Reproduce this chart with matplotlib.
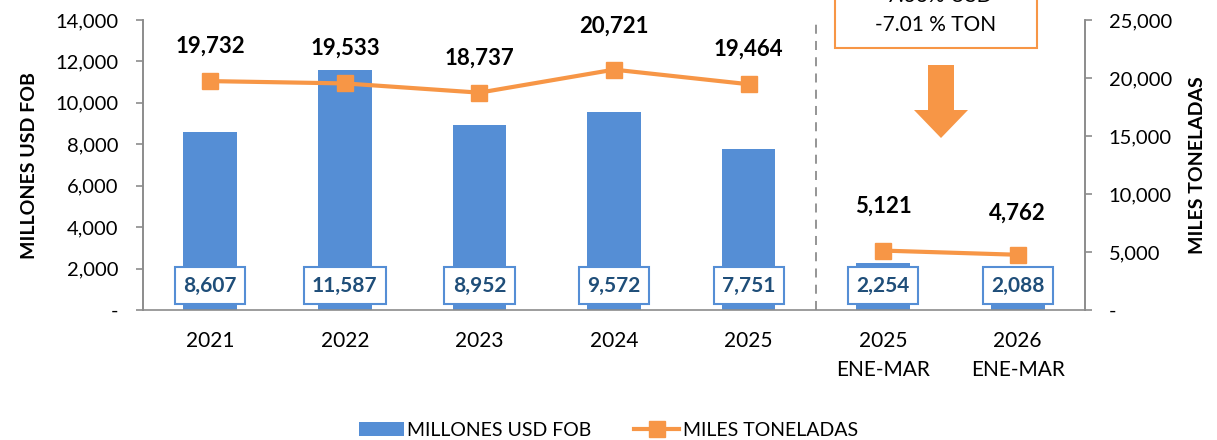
import numpy as np
import matplotlib
matplotlib.use("Agg")
import matplotlib.pyplot as plt
from matplotlib.patches import Polygon, Rectangle, Patch
from matplotlib.lines import Line2D
from matplotlib.ticker import FuncFormatter

plt.rcParams['font.family'] = ['Lato', 'DejaVu Sans']

# data
categories = ["2021", "2022", "2023", "2024", "2025", "2025\nENE-MAR", "2026\nENE-MAR"]
usd_fob = [8607, 11587, 8952, 9572, 7751, 2254, 2088]
miles_ton = [19732, 19533, 18737, 20721, 19464, 5121, 4762]
var_usd = "-7.36% USD"
var_ton = "-7.01 % TON"

blue = "#558ED5"
orange = "#F79646"
box_txt = "#1F4E79"
grey = "#8C8C8C"

W, H = 1217, 440
fig = plt.figure(figsize=(W / 100, H / 100), dpi=100)
ax = fig.add_axes([143 / W, 1 - 310 / H, (1085 - 143) / W, 290 / H])
ax2 = ax.twinx()

x = np.arange(len(categories))
ax.bar(x, usd_fob, width=0.4, color=blue, zorder=2)
ax.set_xlim(-0.5, len(categories) - 0.5)
ax.set_ylim(0, 14000)
ax.set_yticks(np.arange(0, 14001, 2000))
ax2.set_ylim(0, 25000)
ax2.set_yticks(np.arange(0, 25001, 5000))

fmt = FuncFormatter(lambda v, p: "-" if v == 0 else f"{int(v):,}")
ax.yaxis.set_major_formatter(fmt)
ax2.yaxis.set_major_formatter(fmt)

# line on secondary axis: two segments (annual / ene-mar)
ax2.plot(x[:5], miles_ton[:5], color=orange, lw=3, marker="s", ms=11, zorder=3)
ax2.plot(x[5:], miles_ton[5:], color=orange, lw=3, marker="s", ms=11, zorder=3)

# labels over the line
offsets = [25, 25, 25, 31, 25, 32, 30]
for i, v in enumerate(miles_ton):
    ax2.annotate(f"{v:,}", (x[i], v), xytext=(0, offsets[i]), textcoords="offset points",
                 ha="center", va="center", fontsize=16, fontweight="bold", color="black")

# value boxes at the foot of the bars
for i, v in enumerate(usd_fob):
    ax2.text(x[i], 2100, f"{v:,}", ha="center", va="center", fontsize=15,
             fontweight="bold", color=box_txt, zorder=5,
             bbox=dict(boxstyle="square,pad=0.4", fc="white", ec=blue, lw=1.5))

for a in (ax, ax2):
    a.spines["top"].set_visible(False)
    for s in ("left", "right", "bottom"):
        a.spines[s].set_color(grey)
        a.spines[s].set_linewidth(1.2)
ax2.spines["bottom"].set_visible(False)

ax.set_xticks(x)
ax.set_xticklabels(categories, fontsize=15, linespacing=1.6)
ax.tick_params(axis="x", length=0, pad=15)
ax.tick_params(axis="y", labelsize=14.5, colors=grey, labelcolor="black", length=5, width=1.2, pad=13)
ax2.tick_params(axis="y", labelsize=14.5, colors=grey, labelcolor="black", length=5, width=1.2, pad=12)

ax.set_ylabel("MILLONES USD FOB", fontsize=14, fontweight="bold", labelpad=12)
ax2.set_ylabel("MILES TONELADAS", fontsize=14, fontweight="bold", labelpad=12)

# dashed separator
ax.axvline(4.5, color=grey, ls=(0, (5, 4)), lw=1.3, zorder=1)

# variation box (cut at the top) and down arrow
def fx(px):
    return px / W

def fy(py):
    return 1 - py / H

fig.patches.append(Rectangle((fx(835), fy(48)), fx(1037) - fx(835), fy(-40) - fy(48),
                             transform=fig.transFigure, fc="white", ec=orange, lw=1.5))
fig.text(fx(936), fy(-4), var_usd, ha="center", va="center", fontsize=15)
fig.text(fx(936), fy(25), var_ton, ha="center", va="center", fontsize=15)

arrow_px = [(928, 65), (954, 65), (954, 110), (968, 110), (941, 138), (914, 110), (928, 110)]
fig.patches.append(Polygon([(fx(a), fy(b)) for a, b in arrow_px], closed=True,
                           transform=fig.transFigure, fc=orange, ec="none"))

handles = [Patch(fc=blue, ec="none"),
           Line2D([], [], color=orange, lw=3, marker="s", ms=11)]
fig.legend(handles, ["MILLONES USD FOB", "MILES TONELADAS"], loc="center",
           bbox_to_anchor=(0.5, fy(430)), ncol=2, frameon=False, fontsize=14,
           handlelength=2.3, handletextpad=0.2, columnspacing=2.2)

fig.savefig("out.png", dpi=100)
